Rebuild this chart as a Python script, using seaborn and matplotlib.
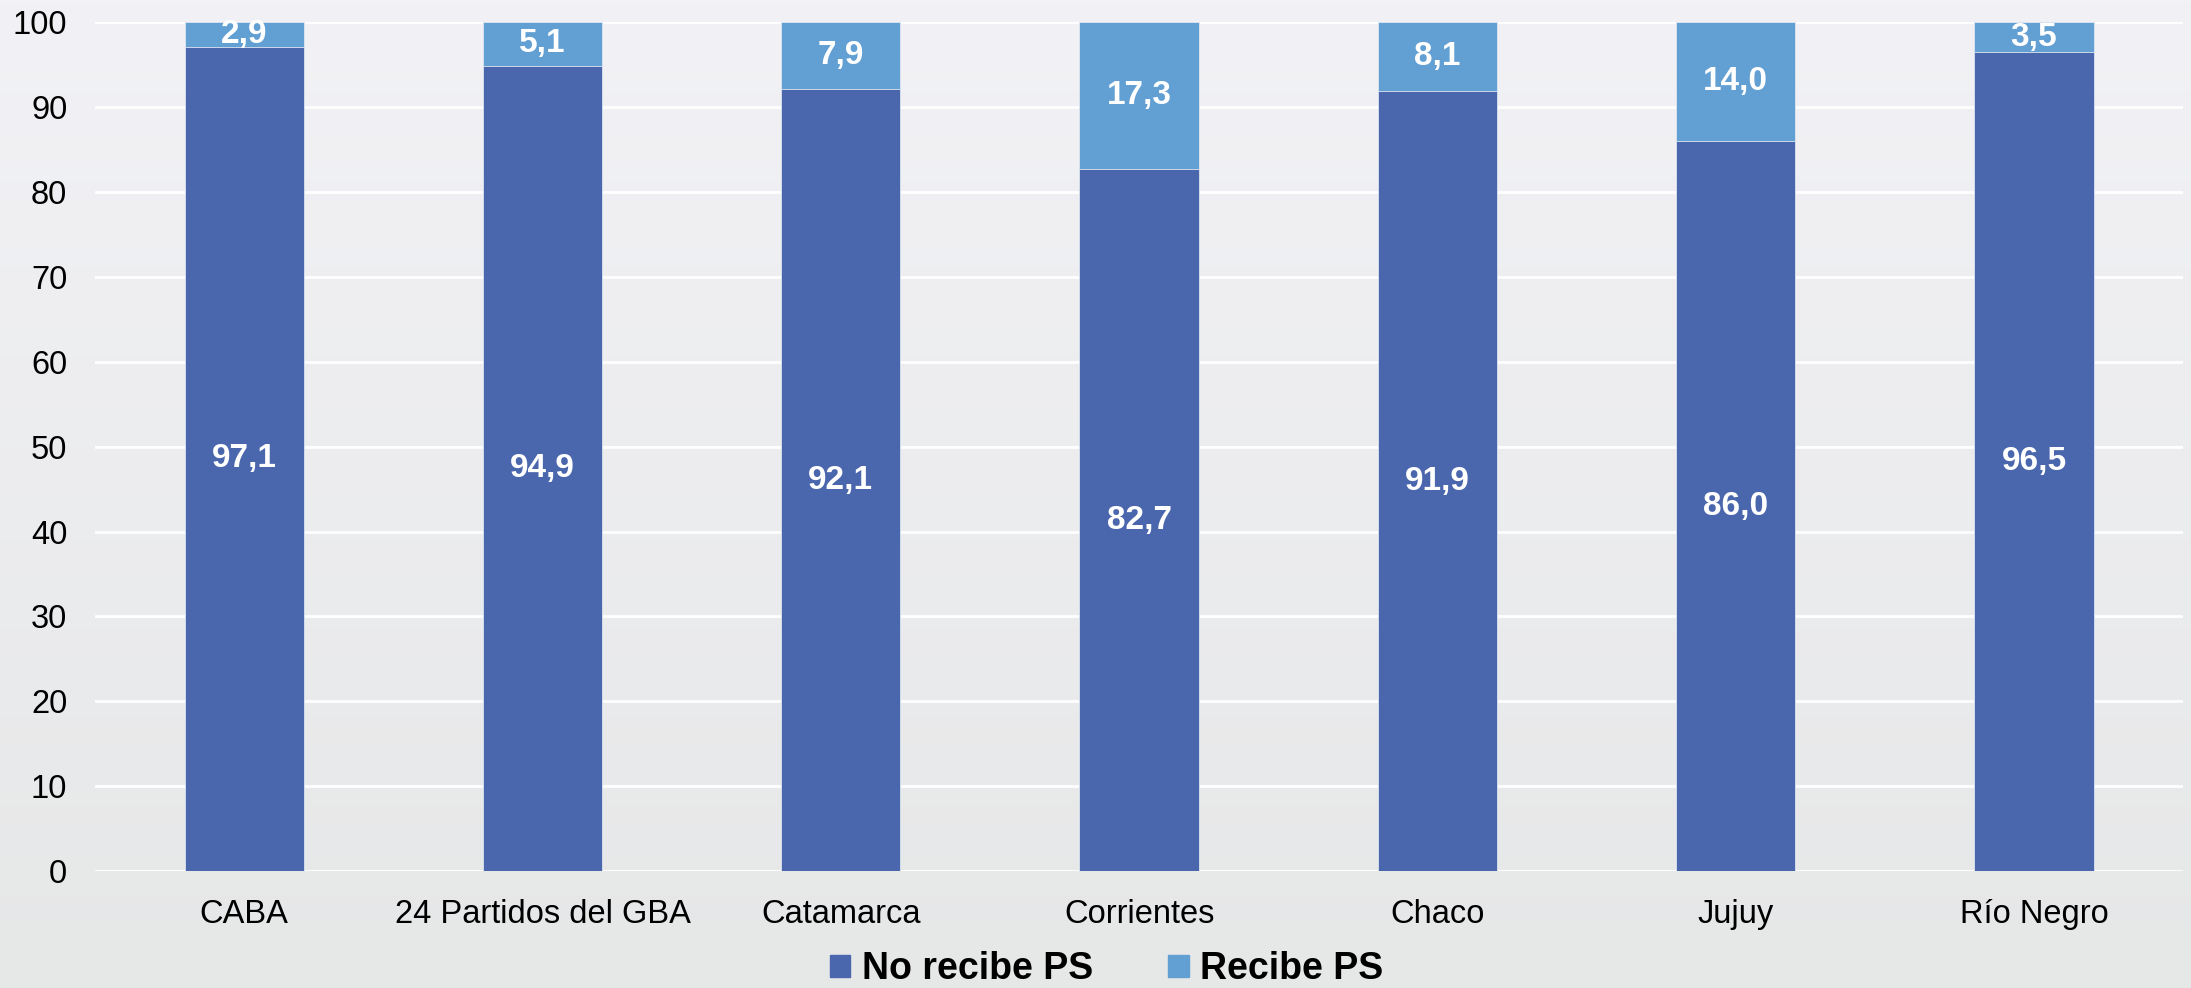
import numpy as np
import pandas as pd
import matplotlib
matplotlib.use("Agg")
import matplotlib.pyplot as plt
import seaborn as sns

# data
provincias = ["CABA", "24 Partidos del GBA", "Catamarca", "Corrientes",
              "Chaco", "Jujuy", "Río Negro"]
no_recibe = [97.1, 94.9, 92.1, 82.7, 91.9, 86.0, 96.5]
recibe = [2.9, 5.1, 7.9, 17.3, 8.1, 14.0, 3.5]
y_ticks = [0, 10, 20, 30, 40, 50, 60, 70, 80, 90, 100]

df = pd.DataFrame({"provincia": provincias,
                   "no_recibe": no_recibe,
                   "recibe": recibe})
df["total"] = df["no_recibe"] + df["recibe"]

color_no = "#4a66ad"
color_si = "#629fd2"

sns.set_theme(style="white")
plt.rcParams["font.family"] = ["Liberation Sans", "DejaVu Sans"]
plt.rcParams["text.color"] = "black"

fig = plt.figure(figsize=(21.91, 9.88), dpi=100)

# vertical gradient background
bg = fig.add_axes([0, 0, 1, 1], zorder=0)
grad = np.linspace(0, 1, 256).reshape(-1, 1)
top_c = np.array([0xf2, 0xf2, 0xf6]) / 255
bot_c = np.array([0xe6, 0xe7, 0xe7]) / 255
img = top_c[None, None, :] * (1 - grad[:, :, None]) + bot_c[None, None, :] * grad[:, :, None]
bg.imshow(img, aspect="auto", extent=[0, 1, 0, 1])
bg.axis("off")

ax = fig.add_axes([0.0434, 0.1184, 0.953, 0.859], zorder=1)
ax.patch.set_alpha(0)

# stacked bars: total (light) behind, base series (dark) in front
sns.barplot(data=df, x="provincia", y="total", color=color_si, width=0.4,
            saturation=1, ax=ax, edgecolor="#dfe6f2", linewidth=0.6, zorder=3)
sns.barplot(data=df, x="provincia", y="no_recibe", color=color_no, width=0.4,
            saturation=1, ax=ax, edgecolor="#dfe6f2", linewidth=0.6, zorder=4)

for i, row in df.iterrows():
    ax.text(i, row["no_recibe"] / 2, f"{row['no_recibe']:.1f}".replace(".", ","),
            ha="center", va="center", color="white", fontsize=24,
            fontweight="bold", zorder=5)
    ax.text(i, row["no_recibe"] + row["recibe"] / 2,
            f"{row['recibe']:.1f}".replace(".", ","),
            ha="center", va="center", color="white", fontsize=24,
            fontweight="bold", zorder=5)

ax.set_ylim(0, 100)
ax.set_xlim(-0.5, len(provincias) - 0.5)
ax.set_yticks(y_ticks)
ax.yaxis.grid(True, color="white", linewidth=2, zorder=0)
ax.set_axisbelow(True)
for s in ax.spines.values():
    s.set_visible(False)
ax.tick_params(axis="both", length=0, labelsize=23.5, colors="black")
ax.tick_params(axis="y", pad=20)
ax.tick_params(axis="x", pad=20)
ax.set_xlabel("")
ax.set_ylabel("")

handles = [plt.Rectangle((0, 0), 1, 1, color=color_no),
           plt.Rectangle((0, 0), 1, 1, color=color_si)]
leg = fig.legend(handles, ["No recibe PS", "Recibe PS"], loc="center",
                 bbox_to_anchor=(0.505, 0.019), ncol=2, frameon=False,
                 prop={"weight": "bold", "size": 27}, handlelength=0.55,
                 handleheight=0.55, handletextpad=0.3, columnspacing=2.0)
for t in leg.get_texts():
    t.set_color("black")

fig.savefig("out.png", dpi=100)
